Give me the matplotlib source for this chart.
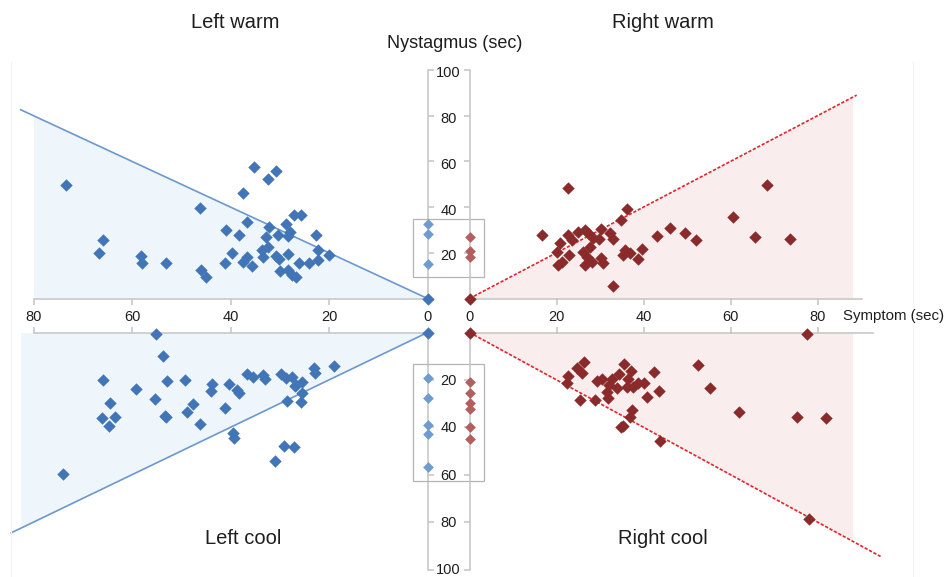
import matplotlib
matplotlib.use('Agg')
import matplotlib.pyplot as plt
from matplotlib.transforms import blended_transform_factory as blend, offset_copy
from matplotlib.patches import Rectangle
from matplotlib.lines import Line2D

# symptom (sec) / nystagmus (sec) for each side
lw_symptom = [73.5, 65.9, 66.8, 58.1, 58.0, 53.1, 46.1, 46.0, 45.0, 40.9, 39.6, 41.2, 38.2, 37.5, 35.2,
              30.8, 32.4, 36.6, 32.1, 28.7, 27.2, 25.7, 27.9, 30.3, 32.8, 28.3, 22.7, 36.7, 37.4, 35.7,
              33.7, 32.3, 33.3, 30.8, 30.1, 28.3, 29.9, 28.3, 27.6, 26.6, 26.0, 24.0, 22.2, 22.2, 20.1, 0]
lw_nyst = [49.7, 25.5, 20.0, 18.7, 15.4, 15.5, 39.5, 12.5, 9.3, 30.1, 19.9, 15.5, 27.8, 46.0, 57.4,
           55.8, 52.2, 33.6, 31.4, 32.6, 36.5, 36.5, 29.2, 27.8, 26.8, 27.4, 27.8, 18.0, 16.1, 14.2,
           21.2, 22.7, 18.3, 18.6, 17.2, 19.3, 12.2, 12.5, 10.3, 9.5, 15.4, 15.4, 16.8, 21.2, 19.0, 0]

rw_symptom = [22.7, 16.7, 36.1, 34.8, 33.1, 43.0, 46.1, 49.5, 52.1, 39.6, 38.7, 20.0, 20.8, 20.4, 21.2,
              22.9, 22.7, 24.9, 26.6, 27.3, 30.2, 32.3, 33.1, 29.8, 26.2, 26.9, 27.7, 26.6, 28.1, 30.2,
              30.8, 35.7, 36.9, 35.4, 60.6, 65.6, 68.5, 73.7, 28.5, 23.5, 0]
rw_nyst = [48.5, 27.9, 39.3, 34.2, 5.5, 27.5, 30.7, 28.8, 25.4, 21.8, 17.4, 20.5, 24.4, 14.5, 16.1,
           19.1, 28.0, 29.2, 30.0, 28.5, 30.3, 28.8, 25.9, 25.9, 20.5, 18.3, 22.7, 14.7, 16.1, 17.6,
           15.4, 21.2, 19.8, 19.0, 35.7, 27.0, 49.7, 25.9, 26.5, 25.5, 0]

lc_symptom = [55.1, 53.8, 65.9, 52.8, 49.2, 59.2, 43.8, 44.0, 40.4, 38.7, 38.2, 55.3, 64.5, 47.7, 48.8,
              66.1, 63.4, 64.7, 53.3, 53.0, 46.2, 41.1, 39.4, 39.2, 74.1, 36.6, 35.4, 33.5, 33.0, 29.8,
              28.7, 27.6, 26.6, 25.5, 27.0, 25.4, 28.5, 25.7, 23.0, 22.8, 18.9, 29.1, 27.1, 30.9, 0]
lc_nyst = [0.5, 9.9, 20.0, 20.6, 20.0, 24.0, 21.7, 24.7, 21.7, 24.3, 25.4, 28.2, 29.9, 30.2, 33.4,
           35.9, 35.8, 39.5, 35.2, 35.6, 38.7, 31.7, 42.5, 44.6, 59.7, 17.5, 18.9, 17.9, 19.7, 17.5,
           19.3, 18.6, 22.2, 20.8, 22.6, 25.4, 28.8, 29.3, 15.1, 17.0, 14.0, 47.8, 48.4, 54.1, 0]

rc_symptom = [26.4, 24.6, 25.8, 22.7, 22.3, 25.4, 28.9, 29.4, 30.4, 32.7, 32.1, 31.5, 33.8, 31.8, 34.4,
              35.6, 37.1, 36.5, 36.1, 37.7, 38.8, 40.0, 37.3, 36.9, 35.4, 34.9, 40.7, 42.4, 43.6, 43.8,
              52.6, 55.4, 61.9, 75.2, 81.9, 77.6, 78.0, 0]
rc_nyst = [12.3, 15.1, 17.2, 18.4, 21.4, 28.5, 28.5, 20.5, 19.7, 19.7, 22.2, 25.0, 23.6, 27.8, 17.6,
           13.4, 16.2, 19.7, 22.9, 22.9, 21.4, 21.4, 32.7, 35.5, 39.5, 40.0, 27.1, 16.5, 24.7, 45.6,
           13.7, 23.6, 33.7, 35.8, 36.2, 0.5, 78.8, 0]

# nystagmus only (symptom 0)
lw_zero = [32.6, 28.1, 15.0]
rw_zero = [26.8, 20.9, 18.3]
lc_zero = [19.1, 27.5, 39.0, 43.0, 56.6]
rc_zero = [21.0, 25.7, 29.9, 32.4, 39.7, 45.0]

x_ticks = [0, 20, 40, 60, 80]
y_ticks = [20, 40, 60, 80, 100]

# reach of the y = x line, the shaded area and the x axis in each panel
line_end = {'lw': 82.6, 'rw': 89.0, 'lc': 84.5, 'rc': 94.5}
shade_end = {'lw': 80.0, 'rw': 92.5, 'lc': 82.6, 'rc': 92.8}
xaxis_end = {'lw': 80.0, 'rw': 90.2, 'lc': 80.0, 'rc': 92.8}

W, H = 947, 577
XL0, XR0, SXL, SXR = 427.5, 469.5, 4.925, 4.35
YT0, YB0, SYT, SYB = 298.5, 332.5, 2.285, 2.37
XMAX, YMAX = 88, 104

BLUE, BLUE_L, BLUE_LINE, BLUE_FILL = '#4275b8', '#6e9bd2', '#6b98cf', '#eef6fb'
RED, RED_L, RED_LINE, RED_FILL = '#8a2a2a', '#b35f5f', '#e0262b', '#faeded'
GREY = '#c4c4c4'
TXT = '#1e1e1e'

plt.rcParams['font.family'] = ['Liberation Sans', 'DejaVu Sans']

fig = plt.figure(figsize=(W / 100, H / 100), dpi=100)

# faint frame lines of the original chart area
for xp in (11, 913):
    fig.add_artist(Line2D([xp / W, xp / W], [0, 1 - 62 / H], color='#f3f3f3', lw=0.8))


def quadrant(side, half):
    # side: 'l' / 'r', half: 'w' (warm, upper) / 'c' (cool, lower)
    x0, sx = (XL0, SXL) if side == 'l' else (XR0, SXR)
    y0, sy = (YT0, SYT) if half == 'w' else (YB0, SYB)
    left = x0 - XMAX * sx if side == 'l' else x0
    top = y0 - YMAX * sy if half == 'w' else y0
    ax = fig.add_axes([left / W, 1 - (top + YMAX * sy) / H, XMAX * sx / W, YMAX * sy / H])
    ax.set_xlim((XMAX, 0) if side == 'l' else (0, XMAX))
    ax.set_ylim((0, YMAX) if half == 'w' else (YMAX, 0))
    ax.patch.set_visible(False)
    xs = 'bottom' if half == 'w' else 'top'
    ys = 'right' if side == 'l' else 'left'
    for s in ax.spines:
        ax.spines[s].set_visible(s in (xs, ys))
        ax.spines[s].set_color(GREY)
        ax.spines[s].set_linewidth(1.1)
    ax.spines[xs].set_bounds(0, xaxis_end[side + half])
    ax.spines[ys].set_bounds(0, 100)
    ax.xaxis.set_ticks_position(xs)
    ax.yaxis.set_ticks_position(ys)
    ax.set_xticks(x_ticks[1:])
    ax.set_yticks(y_ticks)
    ax.tick_params(direction='out', length=4, width=1.1, color=GREY,
                   labelbottom=False, labeltop=False, labelleft=False, labelright=False)
    return ax


def draw(ax, key, xs, ys, zeros, c, cl, lc, fc, ls):
    e = shade_end[key]
    ax.fill_between([0, e], [0, 0], [0, e], color=fc, lw=0, zorder=1)
    le = line_end[key]
    ax.plot([0, le], [0, le], color=lc, lw=1.2, ls=ls, zorder=2, clip_on=False)
    ax.scatter(xs, ys, marker='D', s=40, color=c, lw=0, zorder=4, clip_on=False)
    ax.scatter([0] * len(zeros), zeros, marker='D', s=30, color=cl, lw=0, zorder=4, clip_on=False)


ax_lw = quadrant('l', 'w')
ax_rw = quadrant('r', 'w')
ax_lc = quadrant('l', 'c')
ax_rc = quadrant('r', 'c')

draw(ax_lw, 'lw', lw_symptom, lw_nyst, lw_zero, BLUE, BLUE_L, BLUE_LINE, BLUE_FILL, '-')
draw(ax_rw, 'rw', rw_symptom, rw_nyst, rw_zero, RED, RED_L, RED_LINE, RED_FILL, (0, (2, 1)))
draw(ax_lc, 'lc', lc_symptom, lc_nyst, lc_zero, BLUE, BLUE_L, BLUE_LINE, BLUE_FILL, '-')
draw(ax_rc, 'rc', rc_symptom, rc_nyst, rc_zero, RED, RED_L, RED_LINE, RED_FILL, (0, (2, 1)))

# tick labels sit between the facing axes
mid_x = (XL0 + XR0) / 2 / W
mid_y = 1 - (YT0 + YB0) / 2 / H - 1.5 / H
for ax in (ax_lw, ax_rw):
    tr = blend(ax.transData, fig.transFigure)
    for v in x_ticks:
        ax.text(v, mid_y, str(v), transform=tr, ha='center', va='center', fontsize=10.5, color=TXT)
for ax, dy in ((ax_lw, -3.5), (ax_lc, -1)):
    tr = offset_copy(blend(fig.transFigure, ax.transData), fig=fig, y=dy, units='dots')
    for v in y_ticks:
        ax.text(mid_x, v, str(v), transform=tr, ha='center', va='center', fontsize=10.5, color=TXT)

# boxes around the nystagmus-only points
box_x0, box_x1 = 412.5 / W, 484 / W
for ax, (y0, y1) in ((ax_lw, (9.5, 34.7)), (ax_lc, (13.4, 62.5))):
    tr = blend(fig.transFigure, ax.transData)
    ax.add_patch(Rectangle((box_x0, y0), box_x1 - box_x0, y1 - y0, transform=tr, fill=False,
                           edgecolor='#b4b4b4', lw=0.9, zorder=3, clip_on=False))

fig.text(235 / W, 1 - 22 / H, 'Left warm', ha='center', va='center', fontsize=14.5, color=TXT)
fig.text(663 / W, 1 - 22 / H, 'Right warm', ha='center', va='center', fontsize=14.5, color=TXT)
fig.text(243 / W, 1 - 538 / H, 'Left cool', ha='center', va='center', fontsize=14.5, color=TXT)
fig.text(663 / W, 1 - 538 / H, 'Right cool', ha='center', va='center', fontsize=14.5, color=TXT)
fig.text(455 / W, 1 - 44 / H, 'Nystagmus (sec)', ha='center', va='center', fontsize=13, color=TXT)
fig.text(843 / W, 1 - 316 / H, 'Symptom (sec)', ha='left', va='center', fontsize=10.8, color=TXT)

fig.savefig('out.png', dpi=100)
